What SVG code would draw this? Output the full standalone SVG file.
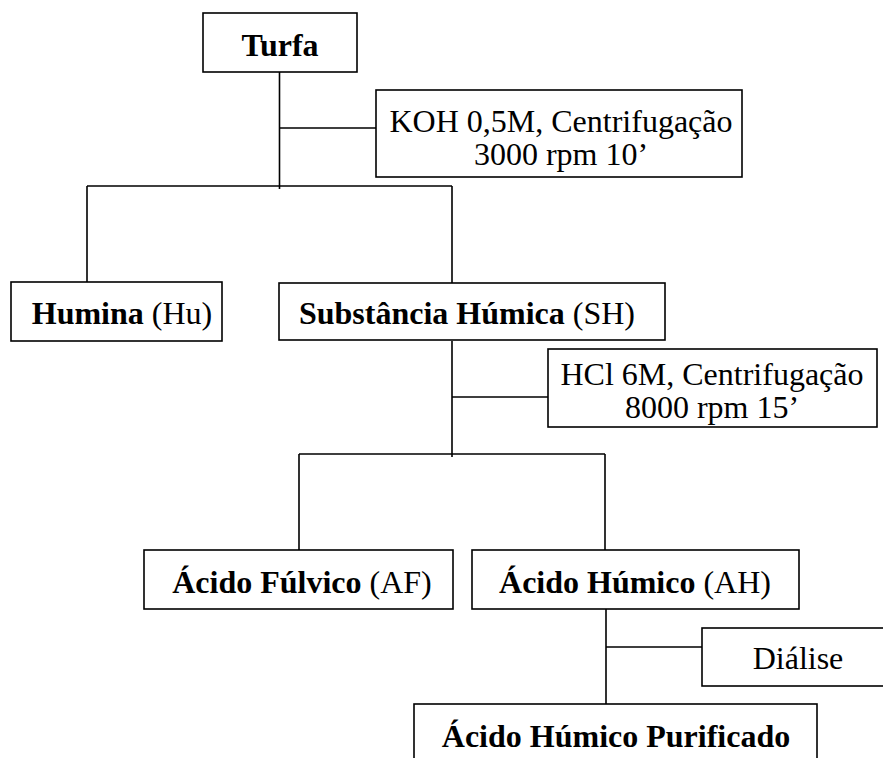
<svg xmlns="http://www.w3.org/2000/svg" width="883" height="758" viewBox="0 0 883 758">
<style>
.box{fill:#fff;stroke:#000;stroke-width:1.6}
.ln{stroke:#000;stroke-width:1.6;fill:none}
text{font-family:"Liberation Serif","Times New Roman",serif;font-size:32px;fill:#000;text-anchor:middle}
.b{font-weight:bold}
</style>
<rect width="883" height="758" fill="#fff"/>
<g id="connectors">
<path class="ln" d="M279.5 72V189M279.5 128H376M87 186H452M87 186V282M452 186V283"/>
<path class="ln" d="M452 341V457M452 397H548M299 454H605M299 454V550M605 454V550"/>
<path class="ln" d="M606 609V704M606 647H702"/>
</g>
<g id="turfa"><rect class="box" x="203" y="13" width="154" height="59"/><text x="280" y="56" class="b">Turfa</text></g>
<g id="koh"><rect class="box" x="376" y="90" width="366" height="87"/><text x="561" y="132">KOH 0,5M, Centrifugação</text><text x="561" y="165">3000 rpm 10’</text></g>
<g id="humina"><rect class="box" x="11" y="282" width="211" height="59"/><text x="122" y="324"><tspan class="b">Humina</tspan> (Hu)</text></g>
<g id="sh"><rect class="box" x="279" y="283" width="386" height="57"/><text x="467" y="324"><tspan class="b">Substância Húmica</tspan> (SH)</text></g>
<g id="hcl"><rect class="box" x="548" y="349" width="329" height="78"/><text x="712" y="385">HCl 6M, Centrifugação</text><text x="712" y="418">8000 rpm 15’</text></g>
<g id="af"><rect class="box" x="144" y="550" width="309" height="59"/><text x="302" y="593"><tspan class="b">Ácido Fúlvico</tspan> (AF)</text></g>
<g id="ah"><rect class="box" x="472" y="550" width="327" height="59"/><text x="635" y="593"><tspan class="b">Ácido Húmico</tspan> (AH)</text></g>
<g id="dialise"><rect class="box" x="702" y="628" width="200" height="58"/><text x="798" y="669">Diálise</text></g>
<g id="purificado"><rect class="box" x="414" y="704" width="403" height="80"/><text x="616" y="747" class="b">Ácido Húmico Purificado</text></g>
</svg>
